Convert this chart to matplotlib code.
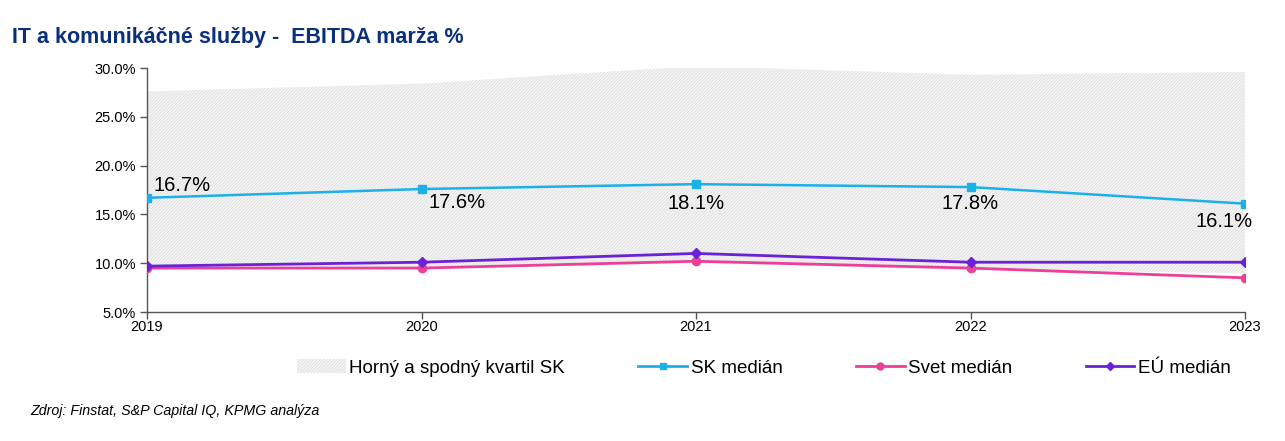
"""
IT a komunikačné služby - EBITDA marža %: mediány SK, Svet, EÚ a kvartilové pásmo SK.
"""

import matplotlib

matplotlib.use("Agg")
import matplotlib.pyplot as plt
from matplotlib.lines import Line2D
from matplotlib.patches import Patch
from matplotlib.ticker import FuncFormatter

plt.rcParams["font.family"] = ["Liberation Sans", "DejaVu Sans"]
plt.rcParams["hatch.linewidth"] = 0.5

roky = [2019, 2020, 2021, 2022, 2023]
horny_kvartil = [27.6, 28.4, 30.2, 29.3, 29.6]
spodny_kvartil = [9.5, 9.4, 10.0, 9.3, 9.0]
sk_median = [16.7, 17.6, 18.1, 17.8, 16.1]
svet_median = [9.5, 9.5, 10.2, 9.5, 8.5]
eu_median = [9.7, 10.1, 11.0, 10.1, 10.1]

FARBA_SK = "#1bb1e7"
FARBA_SVET = "#ee3f98"
FARBA_EU = "#6a22d6"
FARBA_TITULOK = "#0a2f7d"

fig = plt.figure(figsize=(12.85, 4.41), dpi=100)
ax = fig.add_axes([147 / 1285, 1 - 312 / 441, (1245 - 147) / 1285, (312 - 68) / 441])

ax.fill_between(roky, spodny_kvartil, horny_kvartil, facecolor="#f5f5f5",
                edgecolor="#dadada", hatch="//////////", linewidth=0, zorder=1)
ax.plot(roky, svet_median, color=FARBA_SVET, lw=2, marker="o", ms=6, zorder=3)
ax.plot(roky, eu_median, color=FARBA_EU, lw=2, marker="D", ms=5, zorder=4)
ax.plot(roky, sk_median, color=FARBA_SK, lw=1.8, marker="s", ms=6, zorder=5)

# popisky hodnôt SK mediánu
posuny = [(5, 2, "left", "bottom"), (5, -3, "left", "top"), (0, -7, "center", "top"),
          (0, -5, "center", "top"), (-15, -6, "center", "top")]
for rok, hodnota, (dx, dy, ha, va) in zip(roky, sk_median, posuny):
    ax.annotate(f"{hodnota:.1f}%", (rok, hodnota), xytext=(dx, dy),
                textcoords="offset points", ha=ha, va=va, fontsize=14.5,
                color="black", zorder=6)

ax.set_xlim(roky[0], roky[-1])
ax.set_ylim(5, 30)
ax.set_xticks(roky)
ax.set_yticks([5, 10, 15, 20, 25, 30])
ax.yaxis.set_major_formatter(FuncFormatter(lambda v, _: f"{v:.1f}%"))
for strana in ("top", "right"):
    ax.spines[strana].set_visible(False)
for strana in ("left", "bottom"):
    ax.spines[strana].set_color("#555555")
    ax.spines[strana].set_linewidth(1)
ax.tick_params(axis="both", labelsize=10.5, color="#555555", length=5, width=1, pad=3)
ax.tick_params(axis="x", pad=1)

fig.text(12 / 1285, 1 - 38 / 441, "IT a komunikáčné služby -  EBITDA marža %",
         fontsize=15.5, fontweight="bold", color=FARBA_TITULOK, va="center", ha="left")

polozky = [
    Patch(facecolor="#f5f5f5", edgecolor="#dadada", hatch="//////////", linewidth=0),
    Line2D([], [], color=FARBA_SK, lw=2, marker="s", ms=5),
    Line2D([], [], color=FARBA_SVET, lw=2, marker="o", ms=5),
    Line2D([], [], color=FARBA_EU, lw=2, marker="D", ms=4),
]
nazvy = ["Horný a spodný kvartil SK", "SK medián", "Svet medián", "EÚ medián"]
fig.legend(polozky, nazvy, loc="center", bbox_to_anchor=(764 / 1285, 1 - 368 / 441),
           ncol=4, frameon=False, fontsize=13.5, handlelength=2.6, handletextpad=0.2,
           columnspacing=3.9)

fig.text(30 / 1285, 1 - 411 / 441, "Zdroj: Finstat, S&P Capital IQ, KPMG analýza",
         fontsize=10.3, style="italic", va="center", ha="left")

fig.savefig("out.png", dpi=100)
